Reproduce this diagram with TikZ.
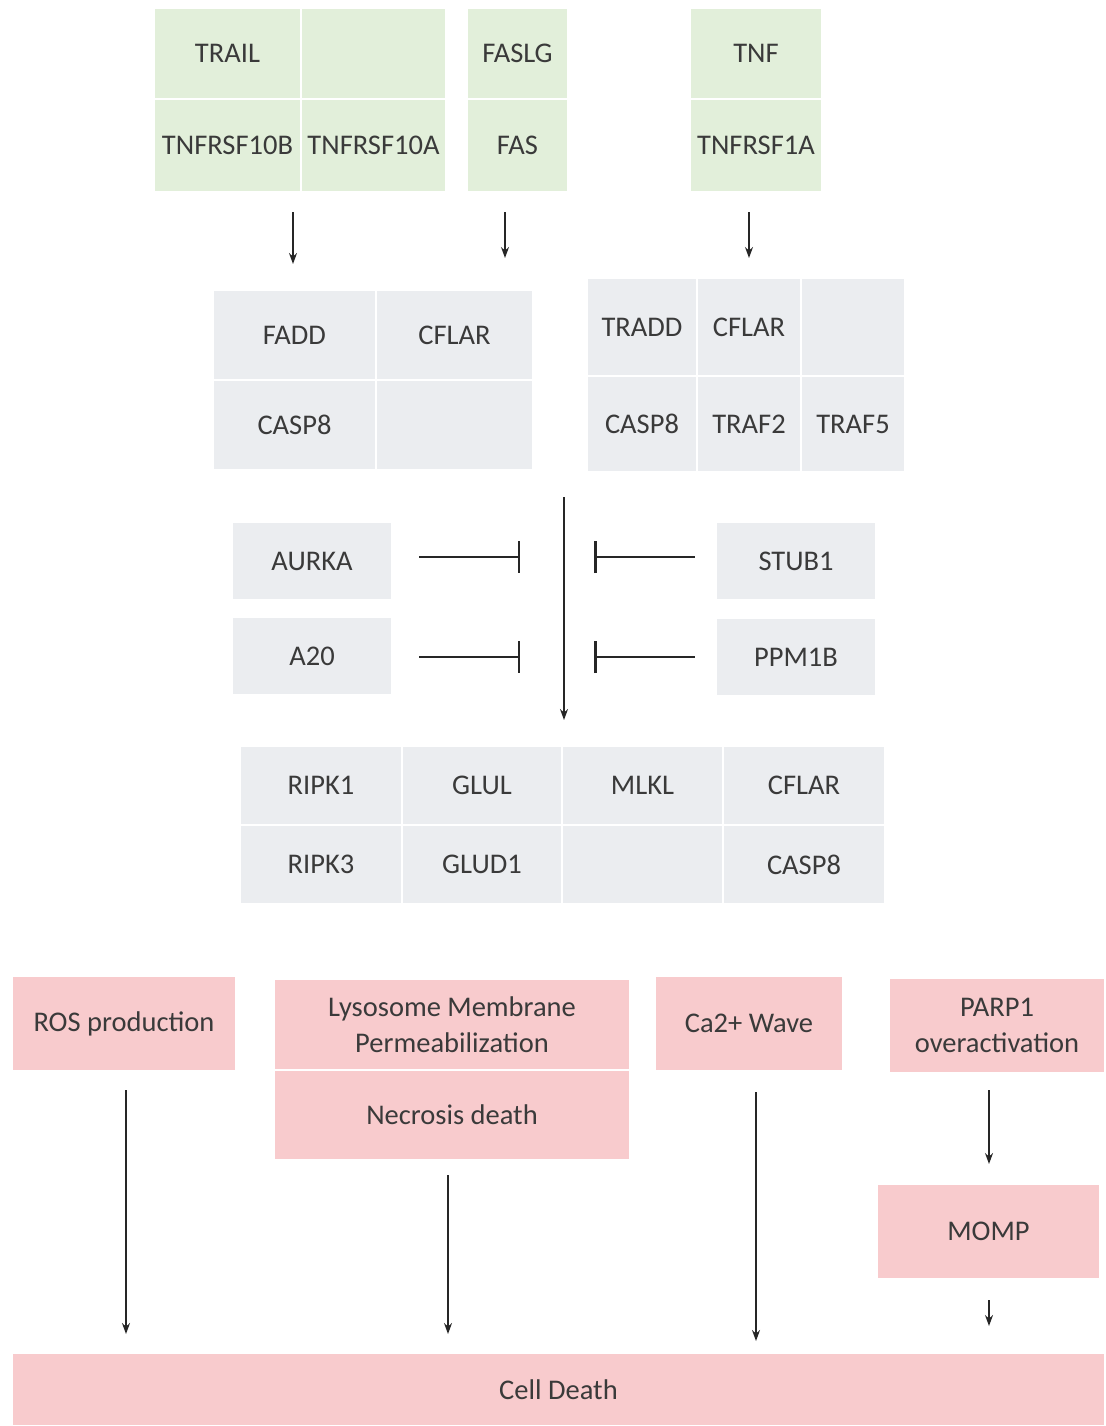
\documentclass[tikz,border=0pt]{standalone}
\usepackage{fontspec}
\setmainfont{Carlito}
\usetikzlibrary{arrows.meta}
\definecolor{gfill}{HTML}{E2EFDA}
\definecolor{grfill}{HTML}{EBEDF0}
\definecolor{pfill}{HTML}{F8CBCD}
\definecolor{txt}{HTML}{3A3A3A}
\tikzset{
  cell/.style={rectangle, draw=white, line width=2.5pt, inner sep=0pt, text=txt,
    font=\fontsize{28.5}{36}\selectfont, align=center},
  gcell/.style={cell, fill=gfill},
  grcell/.style={cell, fill=grfill},
  pcell/.style={cell, fill=pfill},
  arr/.style={line width=1.4pt, draw=black!85, -{Stealth[length=11pt,width=8pt]}},
  inh/.style={line width=1.4pt, draw=black!85, -{Bar[width=32pt,line width=2.5pt]}},
}
\newcommand{\cellat}[6]{\node[#1, minimum width=#4pt, minimum height=#5pt] (#2) at (#3) {#6};}
\begin{document}
\begin{tikzpicture}[x=1pt,y=-1pt]
\useasboundingbox (0,0) rectangle (1105,1426);
% top green groups
\cellat{gcell}{trail}{227.5,53.5}{147}{91}{TRAIL}
\cellat{gcell}{tempty}{373.5,53.5}{145}{91}{}
\cellat{gcell}{t10b}{227.5,145.5}{147}{93}{TNFRSF10B}
\cellat{gcell}{t10a}{373.5,145.5}{145}{93}{TNFRSF10A}
\cellat{gcell}{faslg}{517.5,53.5}{101}{91}{FASLG}
\cellat{gcell}{fas}{517.5,145.5}{101}{93}{FAS}
\cellat{gcell}{tnf}{756,53.5}{132}{91}{TNF}
\cellat{gcell}{tnfr}{756,145.5}{132}{93}{TNFRSF1A}
% arrows top
\coordinate (a1s) at (293,212); \coordinate (a1e) at (293,264);
\coordinate (a2s) at (505,212); \coordinate (a2e) at (505,258);
\coordinate (a3s) at (749,212); \coordinate (a3e) at (749,258);
\draw[arr] (a1s) -- (a1e);
\draw[arr] (a2s) -- (a2e);
\draw[arr] (a3s) -- (a3e);
% gray group 1
\cellat{grcell}{fadd}{294.5,335}{163}{90}{FADD}
\cellat{grcell}{cflara}{454.5,335}{157}{90}{CFLAR}
\cellat{grcell}{casp8a}{294.5,425}{163}{90}{CASP8}
\cellat{grcell}{emptya}{454.5,425}{157}{90}{}
% gray group 2
\cellat{grcell}{tradd}{642,327}{110}{98}{TRADD}
\cellat{grcell}{cflarb}{749,327}{104}{98}{CFLAR}
\cellat{grcell}{emptyb}{853,327}{104}{98}{}
\cellat{grcell}{casp8b}{642,424}{110}{96}{CASP8}
\cellat{grcell}{traf2}{749,424}{104}{96}{TRAF2}
\cellat{grcell}{traf5}{853,424}{104}{96}{TRAF5}
% middle inhibitors
\cellat{grcell}{aurka}{312,561}{160}{78}{AURKA}
\cellat{grcell}{a20}{312,656}{160}{78}{A20}
\cellat{grcell}{stub1}{796,561}{160}{78}{STUB1}
\cellat{grcell}{ppm1b}{796,657}{160}{78}{PPM1B}
\coordinate (vs) at (564,497); \coordinate (ve) at (564,720);
\draw[arr] (vs) -- (ve);
\coordinate (i1) at (520,557); \coordinate (i2) at (520,657);
\coordinate (i3) at (594,557); \coordinate (i4) at (594,657);
\draw[inh] (aurka.east |- i1) ++(26,0) -- (i1);
\draw[inh] (a20.east |- i2) ++(26,0) -- (i2);
\draw[inh] (stub1.west |- i3) ++(-20,0) -- (i3);
\draw[inh] (ppm1b.west |- i4) ++(-20,0) -- (i4);
% bottom gray table
\cellat{grcell}{ripk1}{321,785.5}{162}{79}{RIPK1}
\cellat{grcell}{glul}{482,785.5}{160}{79}{GLUL}
\cellat{grcell}{mlkl}{642.5,785.5}{161}{79}{MLKL}
\cellat{grcell}{cflarc}{804,785.5}{162}{79}{CFLAR}
\cellat{grcell}{ripk3}{321,864.5}{162}{79}{RIPK3}
\cellat{grcell}{glud1}{482,864.5}{160}{79}{GLUD1}
\cellat{grcell}{emptyc}{642.5,864.5}{161}{79}{}
\cellat{grcell}{casp8c}{804,864.5}{162}{79}{CASP8}
% pink boxes
\cellat{pcell}{ros}{124,1023.5}{224}{95}{ROS production}
\cellat{pcell}{lmp}{452,1024.5}{356}{91}{Lysosome Membrane\\Permeabilization}
\cellat{pcell}{necro}{452,1115}{356}{90}{Necrosis death}
\cellat{pcell}{ca}{749,1023.5}{188}{95}{Ca2+ Wave}
\cellat{pcell}{parp}{997,1025.5}{216}{95}{PARP1\\overactivation}
\cellat{pcell}{momp}{988.5,1231.5}{223}{95}{MOMP}
\cellat{pcell}{death}{558.5,1389.5}{1093}{73}{Cell Death}
% bottom arrows
\coordinate (b1s) at (126,1090); \coordinate (b1e) at (126,1334);
\coordinate (b2s) at (448,1175); \coordinate (b2e) at (448,1334);
\coordinate (b3s) at (756,1092); \coordinate (b3e) at (756,1341);
\coordinate (b4s) at (989,1090); \coordinate (b4e) at (989,1164);
\coordinate (b5s) at (989,1300); \coordinate (b5e) at (989,1326);
\draw[arr] (b1s) -- (b1e);
\draw[arr] (b2s) -- (b2e);
\draw[arr] (b3s) -- (b3e);
\draw[arr] (b4s) -- (b4e);
\draw[arr] (b5s) -- (b5e);
\end{tikzpicture}
\end{document}
